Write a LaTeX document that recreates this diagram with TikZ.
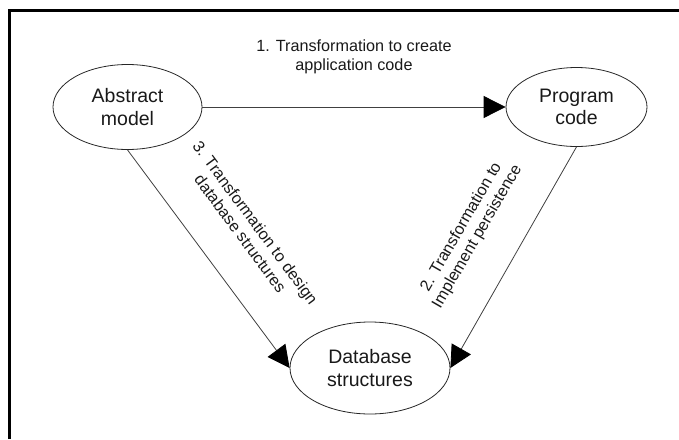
\documentclass[tikz,border=0pt]{standalone}
\usepackage{fontspec}
\setmainfont{Liberation Sans}
\usetikzlibrary{shapes.geometric,arrows.meta}
\begin{document}
\begin{tikzpicture}[x=1pt,y=-1pt,
  stage/.style={ellipse,draw=black!85,line width=0.8pt,inner sep=0pt,align=center,
    font=\fontsize{19.5}{22.5}\selectfont,text=black!90},
  conn/.style={draw=black!75,line width=0.8pt,-{Triangle[length=22pt,width=22pt,fill=black,color=black]}},
  lbl/.style={align=center,font=\fontsize{16.2}{18.6}\selectfont,text=black!90,inner sep=0pt},
  frame/.style={line width=2.5pt,black}]
\useasboundingbox (0,0) rectangle (679,439);
\coordinate (fbl) at (9.5,439);
\coordinate (ftl) at (9.5,10.5);
\coordinate (ftr) at (679,10.5);
\draw[frame] (fbl) -- (ftl) -- (ftr);
\node[stage,minimum width=149pt,minimum height=85pt] (abs) at (127.5,107) {Abstract\\model};
\node[stage,minimum width=141pt,minimum height=79pt] (prog) at (576.5,107) {Program\\code};
\node[stage,minimum width=160pt,minimum height=92pt] (db) at (370,368) {Database\\structures};
\draw[conn] (abs.east) -- (prog.west);
\draw[conn] (abs.south) -- (db.west);
\draw[conn] (prog.south) -- (db.east);
\node[lbl] (l1) at (354,57) {1. Transformation to create\\application code};
\node[lbl,rotate=-53.5] (l3) at (248,228) {3. Transformation to design\\database structures};
\node[lbl,rotate=60] (l2) at (469.5,232) {2. Transformation to\\Implement persistence};
\end{tikzpicture}
\end{document}
